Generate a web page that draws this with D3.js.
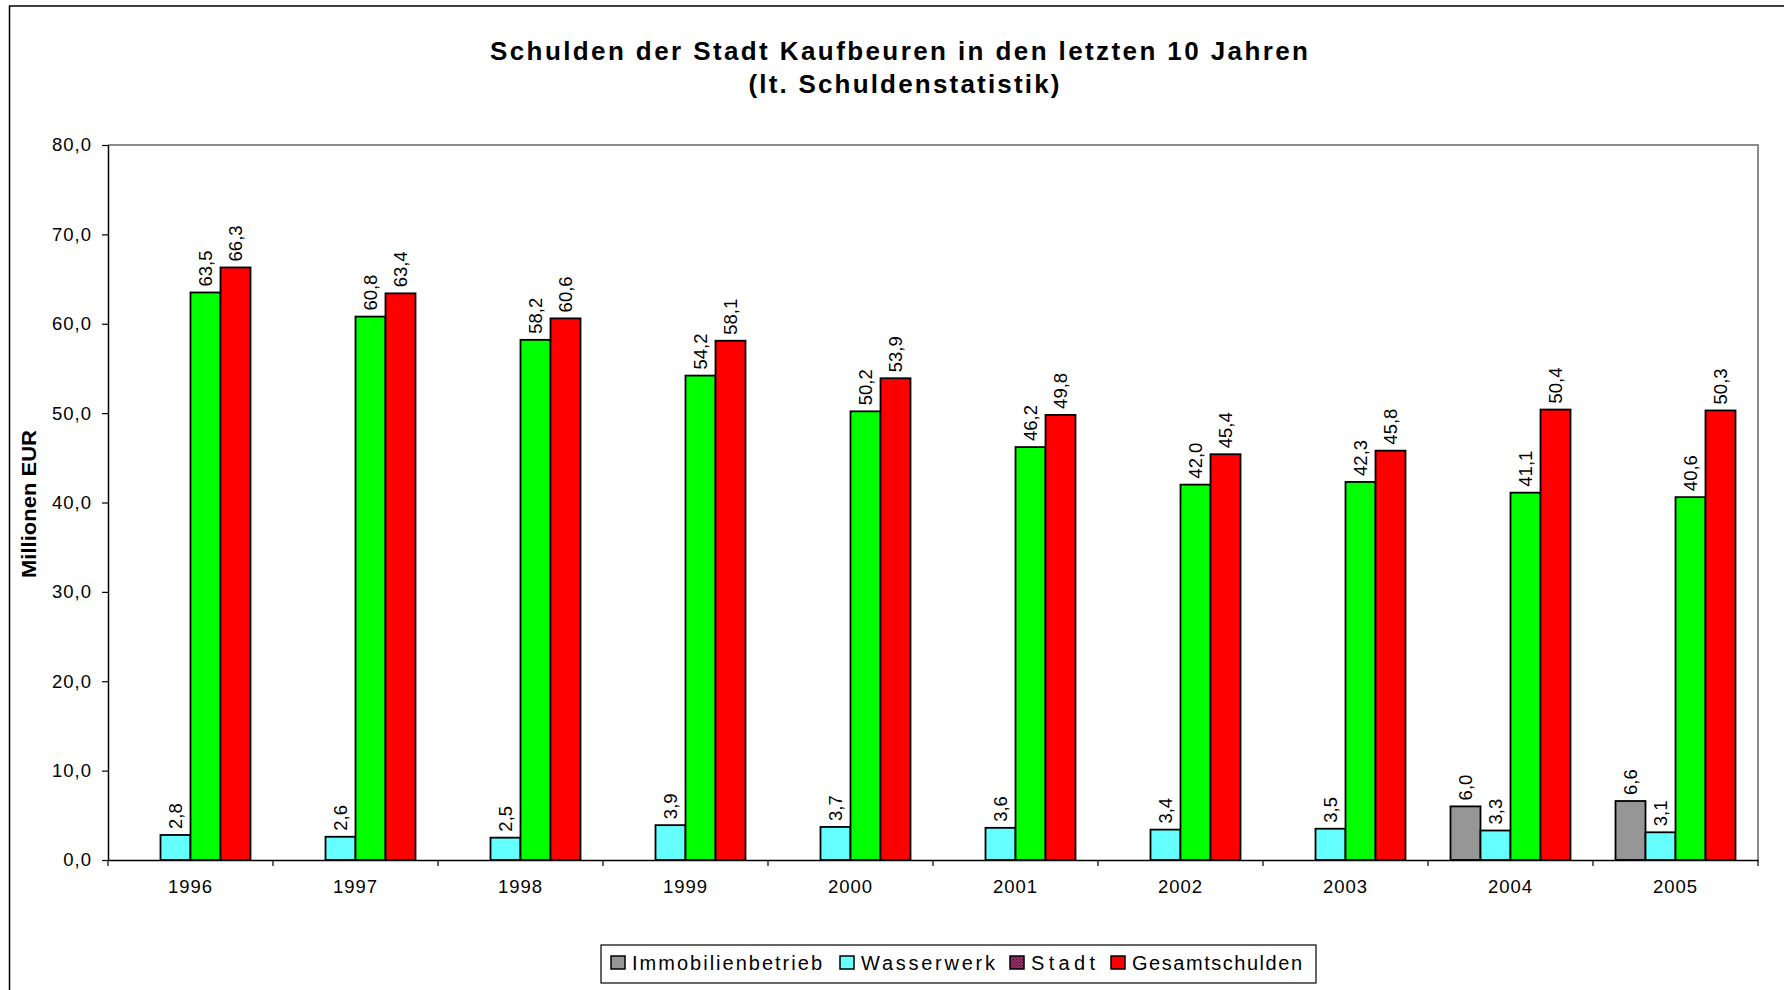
<!DOCTYPE html>
<html>
<head>
<meta charset="utf-8">
<script src="https://cdn.jsdelivr.net/npm/d3@7"></script>
<style>
body { margin: 0; background: #fff; }
text { font-family: "Liberation Sans", Arial, sans-serif; fill: #000; }
</style>
</head>
<body>
<script>
var width = 1784;
var height = 990;

var plot = { left: 108, right: 1758, top: 145, bottom: 860 };

// data
var years = ['1996', '1997', '1998', '1999', '2000', '2001', '2002', '2003', '2004', '2005'];
var seriesNames = ['Immobilienbetrieb', 'Wasserwerk', 'Stadt', 'Gesamtschulden'];
var immobilien = [null, null, null, null, null, null, null, null, 6.0, 6.6];
var wasserwerk = [2.8, 2.6, 2.5, 3.9, 3.7, 3.6, 3.4, 3.5, 3.3, 3.1];
var stadt = [63.5, 60.8, 58.2, 54.2, 50.2, 46.2, 42.0, 42.3, 41.1, 40.6];
var gesamt = [66.3, 63.4, 60.6, 58.1, 53.9, 49.8, 45.4, 45.8, 50.4, 50.3];
var yTicks = [0, 10, 20, 30, 40, 50, 60, 70, 80];

var barColors = ['#969696', '#66ffff', '#00ff00', '#ff0000'];
var legendColors = ['#969696', '#66ffff', 'url(#stadtPattern)', '#ff0000'];

var rows = years.map(function(y, i) {
    return {
        year: y,
        values: [immobilien[i], wasserwerk[i], stadt[i], gesamt[i]]
    };
});

var fmt = function(v) { return d3.format('.1f')(v).replace('.', ','); };

var svg = d3.select('body')
    .append('svg')
    .attr('width', width)
    .attr('height', height);

// pattern for the Stadt legend swatch
var pat = svg.append('defs').append('pattern')
    .attr('id', 'stadtPattern')
    .attr('width', 3)
    .attr('height', 3)
    .attr('patternUnits', 'userSpaceOnUse');
pat.append('rect').attr('width', 3).attr('height', 3).attr('fill', '#993366');
pat.append('rect').attr('width', 1).attr('height', 1).attr('fill', '#330033');
pat.append('rect').attr('x', 1.5).attr('y', 1.5).attr('width', 1).attr('height', 1).attr('fill', '#330033');

// outer chart frame (runs off the page right and bottom)
svg.append('path')
    .attr('d', 'M9.5,' + height + 'V6H' + width)
    .attr('fill', 'none')
    .attr('stroke', '#000')
    .attr('stroke-width', 1.5);

var x0 = d3.scaleBand()
    .domain(years)
    .range([plot.left, plot.right])
    .padding(0);

var x1 = d3.scaleBand()
    .domain(seriesNames)
    .range([0, x0.bandwidth()])
    .paddingInner(0)
    .paddingOuter(0.75);

var yScale = d3.scaleLinear()
    .domain([0, 80])
    .range([plot.bottom, plot.top]);

// plot area border top / right
svg.append('path')
    .attr('d', 'M' + plot.left + ',' + plot.top + 'H' + plot.right + 'V' + plot.bottom)
    .attr('fill', 'none')
    .attr('stroke', '#8c8c8c')
    .attr('stroke-width', 2);

// bars
var groups = svg.append('g')
    .selectAll('g')
    .data(rows)
    .enter()
    .append('g')
    .attr('transform', function(d) { return 'translate(' + x0(d.year) + ',0)'; });

var bars = groups.selectAll('g.bar')
    .data(function(d) {
        return d.values.map(function(v, i) { return { name: seriesNames[i], value: v, idx: i }; })
            .filter(function(e) { return e.value !== null; });
    })
    .enter()
    .append('g')
    .attr('class', 'bar');

bars.append('rect')
    .attr('x', function(d) { return x1(d.name); })
    .attr('y', function(d) { return yScale(d.value); })
    .attr('width', x1.bandwidth())
    .attr('height', function(d) { return yScale(0) - yScale(d.value); })
    .attr('fill', function(d) { return barColors[d.idx]; })
    .attr('stroke', '#000')
    .attr('stroke-width', 1.8);

bars.append('text')
    .attr('transform', function(d) {
        return 'translate(' + (x1(d.name) + x1.bandwidth() / 2 + 6) + ',' + (yScale(d.value) - 6) + ') rotate(-90)';
    })
    .attr('font-size', '18.5px')
    .attr('text-anchor', 'start')
    .text(function(d) { return fmt(d.value); });

// y axis
var yAxis = d3.axisLeft(yScale)
    .tickValues(yTicks)
    .tickSize(6)
    .tickSizeOuter(0)
    .tickPadding(10)
    .tickFormat(fmt);

var yG = svg.append('g')
    .attr('transform', 'translate(' + plot.left + ',0)')
    .call(yAxis);
yG.select('.domain').attr('stroke', '#000').attr('stroke-width', 1.5);
yG.selectAll('.tick line').attr('stroke', '#000').attr('stroke-width', 1.2);
yG.selectAll('.tick text')
    .attr('font-size', '18.5px')
    .attr('letter-spacing', '1px')
    .attr('font-family', '"Liberation Sans", Arial, sans-serif')
    .attr('fill', '#000');

// x axis: labels at category centres, ticks at category boundaries
var xAxis = d3.axisBottom(x0)
    .tickSize(0)
    .tickPadding(20)
    .tickSizeOuter(0);

var xG = svg.append('g')
    .attr('transform', 'translate(0,' + plot.bottom + ')')
    .call(xAxis);
xG.select('.domain').attr('stroke', '#000').attr('stroke-width', 1.5);
xG.selectAll('.tick text')
    .attr('font-size', '18.5px')
    .attr('letter-spacing', '1px')
    .attr('font-family', '"Liberation Sans", Arial, sans-serif')
    .attr('fill', '#000');

var bounds = years.map(function(y) { return x0(y); }).concat([x0.range()[1]]);
svg.append('g')
    .selectAll('line')
    .data(bounds)
    .enter()
    .append('line')
    .attr('x1', function(d) { return d; })
    .attr('x2', function(d) { return d; })
    .attr('y1', plot.bottom)
    .attr('y2', plot.bottom + 6)
    .attr('stroke', '#000')
    .attr('stroke-width', 1.2);

// y axis title
svg.append('text')
    .attr('transform', 'translate(36,504) rotate(-90)')
    .attr('text-anchor', 'middle')
    .attr('font-size', '20px')
    .attr('font-weight', 'bold')
    .attr('textLength', 148)
    .attr('lengthAdjust', 'spacingAndGlyphs')
    .text('Millionen EUR');

// title
svg.append('text')
    .attr('x', 899)
    .attr('y', 60)
    .attr('text-anchor', 'middle')
    .attr('font-size', '26px')
    .attr('font-weight', 'bold')
    .attr('textLength', 818)
    .attr('lengthAdjust', 'spacing')
    .text('Schulden der Stadt Kaufbeuren in den letzten 10 Jahren');

svg.append('text')
    .attr('x', 904)
    .attr('y', 93)
    .attr('text-anchor', 'middle')
    .attr('font-size', '26px')
    .attr('font-weight', 'bold')
    .attr('textLength', 311)
    .attr('lengthAdjust', 'spacing')
    .text('(lt. Schuldenstatistik)');

// legend
var legendX = [611, 840, 1010, 1111];
var legendW = [190, 134, 64, 170];

svg.append('rect')
    .attr('x', 601)
    .attr('y', 945)
    .attr('width', 715)
    .attr('height', 38)
    .attr('fill', '#fff')
    .attr('stroke', '#000')
    .attr('stroke-width', 1.2);

var leg = svg.append('g')
    .selectAll('g')
    .data(seriesNames)
    .enter()
    .append('g')
    .attr('transform', function(d, i) { return 'translate(' + legendX[i] + ',956)'; });

leg.append('rect')
    .attr('width', 14)
    .attr('height', 13)
    .attr('fill', function(d, i) { return legendColors[i]; })
    .attr('stroke', '#000')
    .attr('stroke-width', 1.5);

leg.append('text')
    .attr('x', 21)
    .attr('y', 13.5)
    .attr('font-size', '20px')
    .attr('textLength', function(d, i) { return legendW[i]; })
    .attr('lengthAdjust', 'spacing')
    .text(function(d) { return d; });
</script>
</body>
</html>
